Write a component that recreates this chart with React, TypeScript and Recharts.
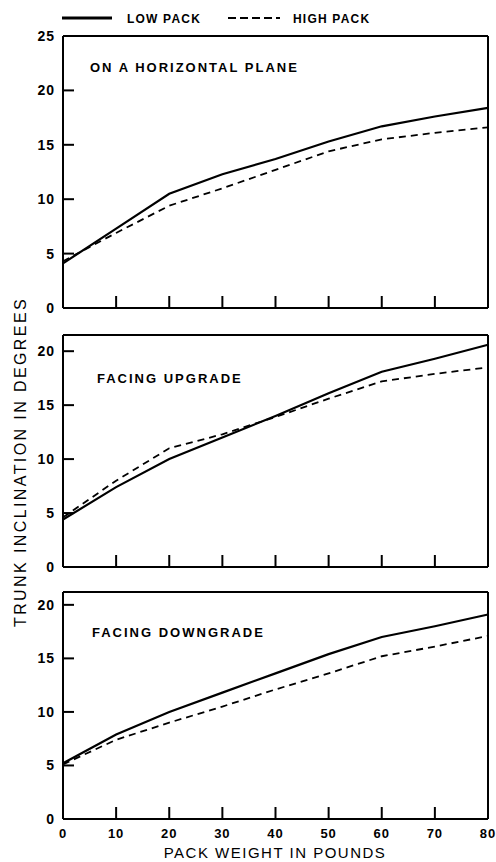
import React from 'react';
import { LineChart, Line, XAxis, YAxis, ReferenceLine } from 'recharts';

const packWeights = [0, 10, 20, 30, 40, 50, 60, 70, 80];
const seriesNames = ['LOW PACK', 'HIGH PACK'];
const panelTitles = ['ON A HORIZONTAL PLANE', 'FACING UPGRADE', 'FACING DOWNGRADE'];

const horizontalLow = [4.1, 7.3, 10.5, 12.3, 13.7, 15.3, 16.7, 17.6, 18.4];
const horizontalHigh = [4.3, 6.9, 9.4, 11.0, 12.7, 14.4, 15.5, 16.1, 16.6];
const upgradeLow = [4.4, 7.4, 10.0, 12.0, 14.0, 16.1, 18.1, 19.3, 20.6];
const upgradeHigh = [4.6, 8.0, 11.0, 12.3, 13.9, 15.6, 17.2, 17.9, 18.5];
const downgradeLow = [5.2, 7.9, 10.0, 11.8, 13.6, 15.4, 17.0, 18.0, 19.1];
const downgradeHigh = [5.1, 7.4, 9.0, 10.5, 12.1, 13.6, 15.2, 16.1, 17.1];

const yTicksTop = [0, 5, 10, 15, 20, 25];
const yTicks = [0, 5, 10, 15, 20];

const font = '"Liberation Sans", Arial, sans-serif';

const toRows = (low: number[], high: number[]) =>
  packWeights.map((w, i) => ({ weight: w, low: low[i], high: high[i] }));

type PanelProps = {
  low: number[];
  high: number[];
  top: number;
  height: number;
  marginTop: number;
  yMax: number;
  ticks: number[];
  xLabels: boolean;
};

function Panel({ low, high, top, height, marginTop, yMax, ticks, xLabels }: PanelProps) {
  const data = toRows(low, high);
  const xh = xLabels ? 24 : 14;
  return (
    <div style={{ position: 'absolute', left: 0, top, width: 496, height }}>
      <LineChart
        width={496}
        height={height}
        data={data}
        margin={{ top: marginTop, right: 8, bottom: 0, left: 0 }}
      >
        <XAxis
          dataKey="weight"
          type="number"
          domain={[0, 80]}
          ticks={packWeights}
          height={xh}
          tickSize={-12}
          tickMargin={22}
          axisLine={{ stroke: '#000', strokeWidth: 2 }}
          tickLine={{ stroke: '#000', strokeWidth: 2 }}
          tick={{ fill: '#000', fontSize: 13, fontWeight: 700, fontFamily: font }}
          tickFormatter={(v: number) => (xLabels ? String(v) : '')}
          className="xax"
        />
        <YAxis
          type="number"
          domain={[0, yMax]}
          ticks={ticks}
          width={63}
          tickSize={-11}
          tickMargin={19}
          axisLine={{ stroke: '#000', strokeWidth: 2 }}
          tickLine={{ stroke: '#000', strokeWidth: 2 }}
          tick={{ fill: '#000', fontSize: 14, fontWeight: 700, fontFamily: font }}
        />
        <ReferenceLine y={yMax} stroke="#000" strokeWidth={2} />
        <ReferenceLine x={80} stroke="#000" strokeWidth={2} />
        <Line
          type="linear"
          dataKey="low"
          name={seriesNames[0]}
          stroke="#000"
          strokeWidth={2.2}
          dot={false}
          isAnimationActive={false}
        />
        <Line
          type="linear"
          dataKey="high"
          name={seriesNames[1]}
          stroke="#000"
          strokeWidth={1.8}
          strokeDasharray="7 5"
          dot={false}
          isAnimationActive={false}
        />
      </LineChart>
    </div>
  );
}

export default function App() {
  return (
    <div style={{ position: 'absolute', left: 0, top: 0, width: 496, height: 862, background: '#fff', overflow: 'hidden' }}>
      <style>{`
        .recharts-cartesian-axis-tick-value { letter-spacing: 1px; }
        .xax .recharts-cartesian-axis-tick-value { letter-spacing: 4px; }
      `}</style>
      <Panel low={horizontalLow} high={horizontalHigh} top={0} height={322} marginTop={36} yMax={25} ticks={yTicksTop} xLabels={false} />
      <Panel low={upgradeLow} high={upgradeHigh} top={322} height={259} marginTop={13} yMax={21.5} ticks={yTicks} xLabels={false} />
      <Panel low={downgradeLow} high={downgradeHigh} top={581} height={262} marginTop={11} yMax={21.2} ticks={yTicks} xLabels={true} />
      <svg width={496} height={862} style={{ position: 'absolute', left: 0, top: 0, pointerEvents: 'none' }}>
        <g fontFamily={font} fontWeight={700} fill="#000">
          <line x1={62} y1={18} x2={112} y2={18} stroke="#000" strokeWidth={3} />
          <text x={127} y={22.5} fontSize={12} letterSpacing={1.2}>{seriesNames[0]}</text>
          <line x1={228} y1={18} x2={280} y2={18} stroke="#000" strokeWidth={2.2} strokeDasharray="8 4" />
          <text x={293} y={22.5} fontSize={12} letterSpacing={1.2}>{seriesNames[1]}</text>
          <text x={90} y={71.5} fontSize={13} letterSpacing={2}>{panelTitles[0]}</text>
          <text x={97} y={382.5} fontSize={13} letterSpacing={2}>{panelTitles[1]}</text>
          <text x={92} y={636.5} fontSize={13} letterSpacing={2}>{panelTitles[2]}</text>
        </g>
        <g fontFamily={font} fill="#000">
          <text x={275} y={858} fontSize={15} letterSpacing={1.5} textAnchor="middle">PACK WEIGHT IN POUNDS</text>
          <text
            x={0}
            y={0}
            fontSize={16}
            letterSpacing={2.4}
            textAnchor="middle"
            transform="translate(26 462) rotate(-90)"
          >
            TRUNK INCLINATION IN DEGREES
          </text>
        </g>
      </svg>
    </div>
  );
}
